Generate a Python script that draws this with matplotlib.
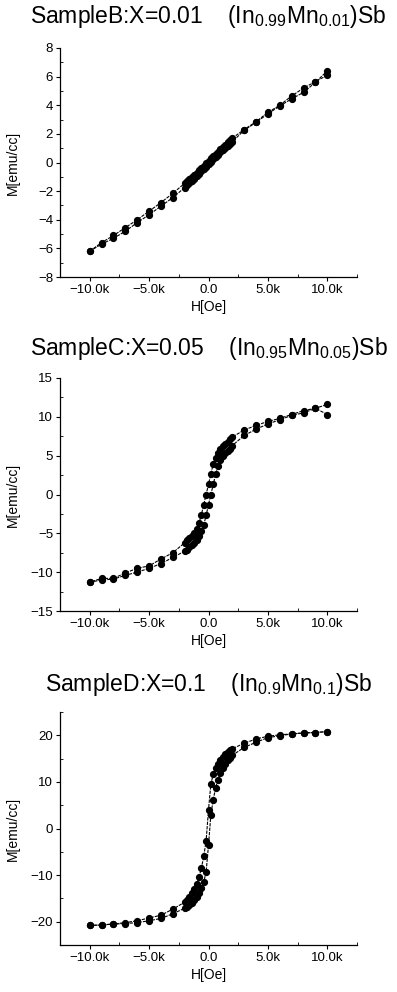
import matplotlib
matplotlib.use("Agg")
import matplotlib.pyplot as plt
from matplotlib.ticker import FuncFormatter, MultipleLocator

plt.rcParams['font.family'] = ['Liberation Sans', 'DejaVu Sans']
plt.rcParams['mathtext.fontset'] = 'custom'
plt.rcParams['mathtext.rm'] = 'Liberation Sans'

# field values along the descending branch (kOe); ascending branch uses the reverse
h_down = [10, 9, 8, 7, 6, 5, 4, 3, 2.0, 1.8, 1.6, 1.4, 1.2, 1.0, 0.8, 0.6, 0.4, 0.2,
          0.0, -0.2, -0.4, -0.6, -0.8, -1.0, -1.2, -1.4, -1.6, -1.8, -2.0,
          -3, -4, -5, -6, -7, -8, -9, -10]
h_up = h_down[::-1]

# Sample B, x=0.01
b_down = [6.1, 5.65, 5.2, 4.65, 4.0, 3.5, 2.85, 2.3, 1.7, 1.55, 1.4, 1.25, 1.1, 0.95,
          0.75, 0.6, 0.45, 0.3, 0.12, -0.05, -0.22, -0.4, -0.55, -0.72, -0.88, -1.03,
          -1.18, -1.32, -1.45, -2.15, -2.8, -3.4, -4.0, -4.55, -5.1, -5.6, -6.2]
b_up = [-6.2, -5.7, -5.3, -4.8, -4.2, -3.65, -3.05, -2.45, -1.75, -1.6, -1.45, -1.3,
        -1.12, -0.95, -0.8, -0.62, -0.47, -0.3, -0.12, 0.05, 0.22, 0.4, 0.55, 0.72,
        0.88, 1.03, 1.18, 1.3, 1.45, 2.25, 2.8, 3.4, 3.95, 4.45, 4.9, 5.6, 6.4]

# Sample C, x=0.05
c_down = [10.3, 11.1, 10.8, 10.3, 9.8, 9.4, 8.9, 8.3, 7.4, 7.1, 6.8, 6.5, 6.2, 5.8,
          5.3, 4.7, 3.9, 2.7, 1.3, 0.0, -1.3, -2.6, -3.7, -4.4, -4.9, -5.3, -5.6,
          -5.9, -6.2, -7.5, -8.3, -9.2, -9.5, -10.1, -10.8, -10.8, -11.3]
c_up = [-11.3, -11.0, -10.9, -10.4, -10.0, -9.5, -8.9, -8.1, -7.3, -7.1, -6.8, -6.5,
        -6.2, -5.8, -5.3, -4.7, -3.9, -2.7, -1.3, 0.0, 1.3, 2.6, 3.7, 4.4, 4.9, 5.3,
        5.6, 5.9, 6.3, 7.6, 8.4, 9.1, 9.6, 10.2, 10.5, 11.1, 11.6]

# Sample D, x=0.1
d_down = [20.8, 20.6, 20.5, 20.3, 20.1, 19.8, 19.2, 18.3, 17.1, 16.8, 16.4, 15.9,
          15.3, 14.6, 13.8, 13.0, 11.6, 9.6, 4.0, -2.6, -6.0, -8.5, -10.5, -12.0,
          -13.0, -13.8, -14.6, -15.3, -15.8, -17.3, -18.6, -19.2, -19.8, -20.2,
          -20.5, -20.7, -20.8]
d_up = [-20.8, -20.7, -20.5, -20.4, -20.2, -19.8, -19.3, -18.3, -17.1, -16.8, -16.4,
        -15.9, -15.3, -14.6, -13.8, -12.8, -11.5, -9.3, -3.6, 3.0, 6.2, 8.7, 10.5,
        12.0, 13.0, 13.8, 14.6, 15.2, 15.7, 17.4, 18.5, 19.5, 19.9, 20.3, 20.5,
        20.6, 20.8]

titles = [r'SampleB:X=0.01    $\mathregular{(In_{0.99}Mn_{0.01})Sb}$',
          r'SampleC:X=0.05    $\mathregular{(In_{0.95}Mn_{0.05})Sb}$',
          r'SampleD:X=0.1    $\mathregular{(In_{0.9}Mn_{0.1})Sb}$']
ylims = [(-8, 8), (-15, 15), (-25, 25)]
ymajor = [2, 5, 10]
yticks = [[-8, -6, -4, -2, 0, 2, 4, 6, 8], [-15, -10, -5, 0, 5, 10, 15], [-20, -10, 0, 10, 20]]
xticks = [-10000, -5000, 0, 5000, 10000]

panels = [(b_down, b_up), (c_down, c_up), (d_down, d_up)]

W, H = 397, 992
# axes boxes in pixels: left, top, right, bottom
boxes = [(60, 48, 357, 277), (60, 378, 357, 611), (60, 712, 357, 945)]
title_y = [16, 348, 684]

fig = plt.figure(figsize=(W / 100, H / 100), dpi=100)


def kfmt(v, pos):
    s = f'{v / 1000:.1f}'
    if abs(v) > 0:
        s += 'k'
    return s.replace('-', '\u2212')


for i, (down, up) in enumerate(panels):
    l, t, r, b = boxes[i]
    ax = fig.add_axes([l / W, 1 - b / H, (r - l) / W, (b - t) / H])
    hd = [h * 1000 for h in h_down]
    hu = [h * 1000 for h in h_up]
    for hx, my in [(hd, down), (hu, up)]:
        ax.plot(hx, my, color='black', linestyle=(0, (3, 1)), linewidth=0.8,
                marker='o', markersize=4.2, markerfacecolor='black',
                markeredgecolor='black')
    ax.set_xlim(-12500, 12500)
    ax.set_ylim(*ylims[i])
    ax.set_xticks(xticks)
    ax.xaxis.set_major_formatter(FuncFormatter(kfmt))
    ax.xaxis.set_minor_locator(MultipleLocator(2500))
    ax.set_yticks(yticks[i])
    ax.yaxis.set_minor_locator(MultipleLocator(ymajor[i] / 2))
    ax.spines['top'].set_visible(False)
    ax.spines['right'].set_visible(False)
    ax.spines['left'].set_linewidth(0.9)
    ax.spines['bottom'].set_linewidth(0.9)
    ax.tick_params(axis='both', which='major', direction='out', length=3,
                   width=0.8, labelsize=9.5, pad=2)
    ax.tick_params(axis='both', which='minor', direction='in', length=2, width=0.6)
    ax.set_xlabel('H[Oe]', fontsize=10, labelpad=3)
    ax.set_ylabel('M[emu/cc]', fontsize=10)
    ax.yaxis.set_label_coords(-0.135, 0.5)
    fig.text((l + r) / 2 / W, 1 - title_y[i] / H, titles[i], ha='center',
             va='center', fontsize=16.5)

fig.savefig('out.png', dpi=100)
